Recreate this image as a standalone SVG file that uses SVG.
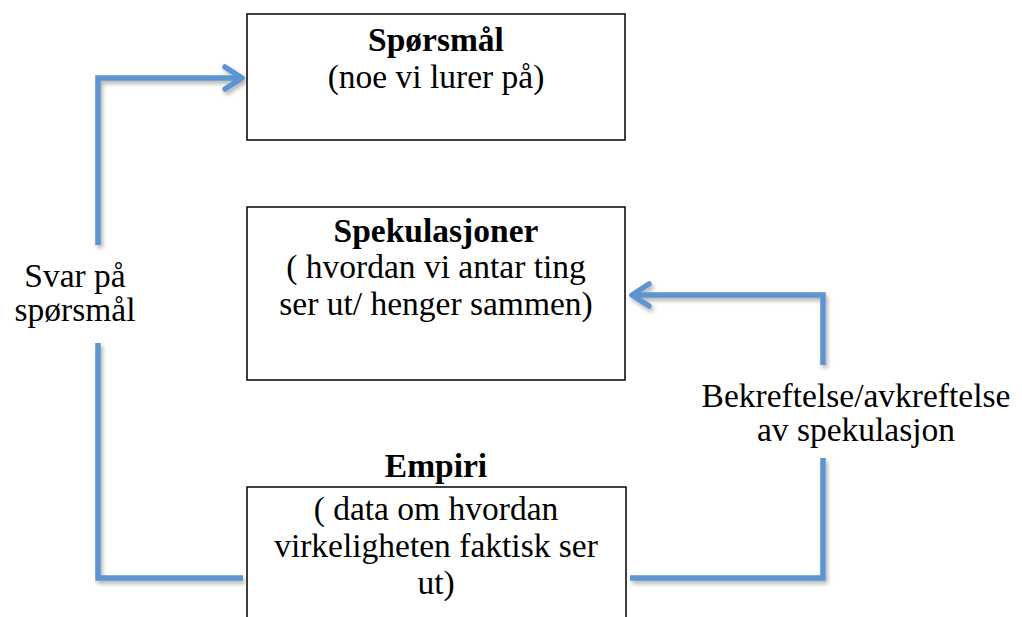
<svg xmlns="http://www.w3.org/2000/svg" width="1022" height="617" viewBox="0 0 1022 617">
<style>
.box{fill:#fff;stroke:#000;stroke-width:1.5}
.t{font-family:"Liberation Serif","DejaVu Serif",serif;font-size:33.5px;fill:#000;text-anchor:middle}
.b{font-weight:bold}
.c{fill:none;stroke:#5B95CF;stroke-width:5.5;stroke-linejoin:miter}
</style>
<defs>
<filter id="sh" x="-10%" y="-10%" width="130%" height="130%">
<feDropShadow dx="2" dy="3" stdDeviation="2" flood-color="#000" flood-opacity="0.3"/>
</filter>
<marker id="ah" viewBox="0 0 24 30" refX="21" refY="15" markerWidth="24" markerHeight="30" markerUnits="userSpaceOnUse" orient="auto">
<path d="M4,4 L21,15 L4,26" fill="none" stroke="#5B95CF" stroke-width="5.5" stroke-linecap="round" stroke-linejoin="round"/>
</marker>
</defs>
<g id="connectors" filter="url(#sh)">
<path class="c" d="M98,245 L98,78 L242,78" marker-end="url(#ah)"/>
<path class="c" d="M98,343 L98,578 L243,578"/>
<path class="c" d="M630,578 L823,578 L823,458"/>
<path class="c" d="M823,365 L823,295 L632,295" marker-end="url(#ah)"/>
</g>
<g id="sporsmal">
<rect class="box" x="247" y="14" width="378" height="126"/>
<text class="t b" x="436" y="51">Spørsmål</text>
<text class="t" x="436" y="88">(noe vi lurer på)</text>
</g>
<g id="spekulasjoner">
<rect class="box" x="247" y="207" width="378" height="173"/>
<text class="t b" x="436" y="242">Spekulasjoner</text>
<text class="t" x="436" y="278">( hvordan vi antar ting</text>
<text class="t" x="436" y="315">ser ut/ henger sammen)</text>
</g>
<g id="empiri">
<text class="t b" x="436" y="477">Empiri</text>
<rect class="box" x="247" y="487" width="379" height="140"/>
<text class="t" x="436" y="520">( data om hvordan</text>
<text class="t" x="436" y="557">virkeligheten faktisk ser</text>
<text class="t" x="436" y="594">ut)</text>
</g>
<g id="label-svar">
<text class="t" x="75" y="287">Svar på</text>
<text class="t" x="75" y="321">spørsmål</text>
</g>
<g id="label-bekreftelse">
<text class="t" x="856" y="407">Bekreftelse/avkreftelse</text>
<text class="t" x="856" y="441">av spekulasjon</text>
</g>
</svg>
